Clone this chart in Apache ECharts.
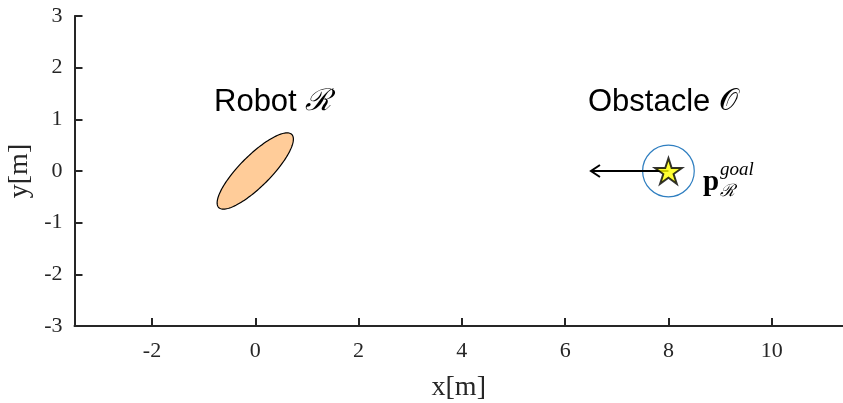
<!DOCTYPE html>
<html>
<head>
<meta charset="utf-8">
<script src="https://cdn.jsdelivr.net/npm/echarts@6/dist/echarts.min.js"></script>
<style>
  html, body { margin: 0; padding: 0; background: #ffffff; }
  #chart { width: 843px; height: 403px; }
</style>
</head>
<body>
<div id="chart"></div>
<script>
// Tick positions on each axis
const xTicks = [-2, 0, 2, 4, 6, 8, 10];
const yTicks = [-3, -2, -1, 0, 1, 2, 3];

// Robot footprint: centre x, centre y, semi-major, semi-minor, heading (deg)
const robotEllipse = [0, 0, 1.0, 0.3, 45];
// Obstacle footprint: centre x, centre y, radius
const obstacleCircle = [8, 0, 0.5];
// Goal position of the robot
const goalPoint = [8, 0];
// Obstacle velocity: start x, start y, dx, dy
const obstacleVelocity = [8, 0, -1.5, 0];

const AXIS_COLOR = '#262626';
const SERIF = '"Liberation Serif", "Times New Roman", serif';
const SANS = '"Liberation Sans", Arial, sans-serif';

const chart = echarts.init(document.getElementById('chart'), null, { renderer: 'canvas' });

const STAR = 'path://M50 0L61.23 34.55L97.55 34.55L68.17 55.9L79.39 90.45L50 69.1L20.61 90.45L31.83 55.9L2.45 34.55L38.77 34.55Z';

function renderEllipse(params, api) {
  const cx = api.value(0), cy = api.value(1);
  const a = api.value(2), b = api.value(3);
  const th = api.value(4) * Math.PI / 180;
  const pts = [];
  const n = 160;
  for (let i = 0; i < n; i++) {
    const t = i / n * 2 * Math.PI;
    const ex = a * Math.cos(t), ey = b * Math.sin(t);
    pts.push(api.coord([
      cx + ex * Math.cos(th) - ey * Math.sin(th),
      cy + ex * Math.sin(th) + ey * Math.cos(th)
    ]));
  }
  return {
    type: 'polygon',
    shape: { points: pts },
    style: { fill: '#FFCC99', stroke: '#000000', lineWidth: 1.2 }
  };
}

function renderCircle(params, api) {
  const c = api.coord([api.value(0), api.value(1)]);
  const r = api.size([api.value(2), 0])[0];
  return {
    type: 'circle',
    shape: { cx: c[0], cy: c[1], r: r },
    style: { fill: 'none', stroke: '#2E7EC0', lineWidth: 1.2 }
  };
}

function renderArrow(params, api) {
  const x0 = api.value(0), y0 = api.value(1);
  const p0 = api.coord([x0, y0]);
  const p1 = api.coord([x0 + api.value(2), y0 + api.value(3)]);
  const ang = Math.atan2(p1[1] - p0[1], p1[0] - p0[0]);
  const headLen = 9, headHalf = 6;
  const bx = p1[0] - headLen * Math.cos(ang), by = p1[1] - headLen * Math.sin(ang);
  const nx = -Math.sin(ang), ny = Math.cos(ang);
  return {
    type: 'group',
    children: [
      {
        type: 'line',
        shape: { x1: p0[0], y1: p0[1], x2: p1[0], y2: p1[1] },
        style: { stroke: '#000000', lineWidth: 2 }
      },
      {
        type: 'polyline',
        shape: { points: [[bx + nx * headHalf, by + ny * headHalf], p1, [bx - nx * headHalf, by - ny * headHalf]] },
        style: { stroke: '#000000', fill: 'none', lineWidth: 2 }
      }
    ]
  };
}

const option = {
  animation: false,
  backgroundColor: '#ffffff',
  grid: { left: 74.5, right: 0, top: 16, bottom: 77, containLabel: false, outerBoundsMode: 'none' },
  xAxis: {
    type: 'value',
    min: -3.5,
    max: 11.38,
    name: 'x[m]',
    nameLocation: 'middle',
    nameGap: 48,
    nameTextStyle: { fontFamily: SERIF, fontSize: 28, color: AXIS_COLOR },
    axisLine: { show: true, onZero: false, lineStyle: { color: AXIS_COLOR, width: 2 } },
    axisTick: { show: true, inside: true, length: 8, customValues: xTicks, lineStyle: { color: AXIS_COLOR, width: 2 } },
    axisLabel: { customValues: xTicks, fontFamily: SERIF, fontSize: 22, color: AXIS_COLOR, margin: 14 },
    splitLine: { show: false }
  },
  yAxis: {
    type: 'value',
    min: -3,
    max: 3,
    name: 'y[m]',
    nameLocation: 'middle',
    nameGap: 36,
    nameTextStyle: { fontFamily: SERIF, fontSize: 28, color: AXIS_COLOR },
    axisLine: { show: true, onZero: false, lineStyle: { color: AXIS_COLOR, width: 2 } },
    axisTick: { show: true, inside: true, length: 8, customValues: yTicks, lineStyle: { color: AXIS_COLOR, width: 2 } },
    axisLabel: { customValues: yTicks, fontFamily: SERIF, fontSize: 22, color: AXIS_COLOR, margin: 12 },
    splitLine: { show: false }
  },
  series: [
    { type: 'custom', name: 'robot', coordinateSystem: 'cartesian2d', renderItem: renderEllipse, data: [robotEllipse], z: 2, silent: true },
    { type: 'custom', name: 'obstacle', coordinateSystem: 'cartesian2d', renderItem: renderCircle, data: [obstacleCircle], z: 2, silent: true },
    { type: 'custom', name: 'velocity', coordinateSystem: 'cartesian2d', renderItem: renderArrow, data: [obstacleVelocity], z: 3, silent: true },
    {
      type: 'scatter', name: 'goal', data: [goalPoint], z: 4, silent: true,
      symbol: STAR, symbolSize: 27, symbolKeepAspect: true,
      itemStyle: { color: '#FFFF00', borderColor: '#000000', borderWidth: 2 }
    }
  ],
  graphic: [
    {
      type: 'text', x: 214, y: 102.5,
      style: {
        text: '{a|Robot }{b|ℛ}',
        verticalAlign: 'middle',
        rich: {
          a: { fontFamily: SANS, fontSize: 31, fill: '#000000' },
          b: { fontFamily: '"DejaVu Serif", serif', fontStyle: 'italic', fontSize: 30, fill: '#000000' }
        }
      }
    },
    {
      type: 'text', x: 588, y: 102.5,
      style: {
        text: '{a|Obstacle }{b|𝒪}',
        verticalAlign: 'middle',
        rich: {
          a: { fontFamily: SANS, fontSize: 31, fill: '#000000' },
          b: { fontFamily: '"DejaVu Serif", serif', fontSize: 30, fill: '#000000' }
        }
      }
    },
    {
      type: 'text', x: 703, y: 182.5,
      style: { text: 'p', font: 'bold 29px ' + SERIF, fill: '#000000', verticalAlign: 'middle' }
    },
    {
      type: 'text', x: 720, y: 170,
      style: { text: 'goal', font: 'italic 19px ' + SERIF, fill: '#000000', verticalAlign: 'middle' }
    },
    {
      type: 'text', x: 720, y: 192,
      style: { text: 'ℛ', font: 'italic 17px "DejaVu Serif", serif', fill: '#000000', verticalAlign: 'middle' }
    }
  ]
};

chart.setOption(option);
</script>
</body>
</html>
